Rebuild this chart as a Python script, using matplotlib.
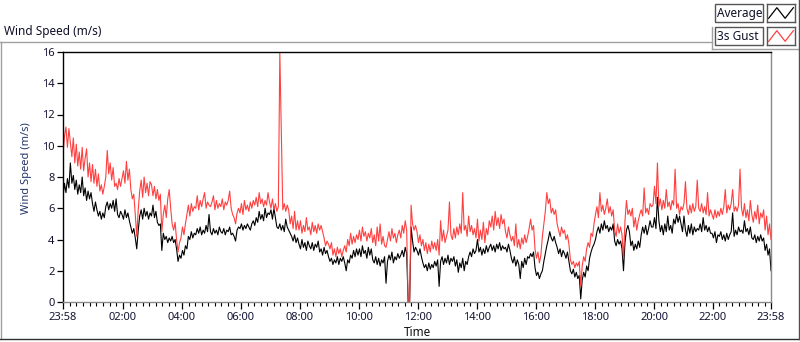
import numpy as np
import matplotlib
matplotlib.use("Agg")
import matplotlib.pyplot as plt
from matplotlib.lines import Line2D
from matplotlib.patches import Rectangle

plt.rcParams['font.family'] = ['Noto Sans', 'DejaVu Sans']

# -----------------------------
# DATA (3 minute samples starting 23:58,
# one row per hour)
# -----------------------------
sample_minutes = 3

avg_speed = [
    6.7, 7.6, 7.0, 7.9, 7.3, 8.9, 7.6, 8.1, 7.2, 7.8, 6.9, 7.5, 7.0, 8.0, 6.8, 7.3, 6.5, 7.1, 6.6, 7.0,
    6.3, 5.8, 6.4, 5.9, 5.5, 5.8, 5.3, 5.7, 5.4, 6.1, 6.4, 5.9, 6.3, 6.0, 6.5, 5.8, 6.6, 5.6, 5.4, 5.8,
    5.6, 5.3, 5.9, 5.4, 5.7, 5.2, 4.8, 4.4, 4.7, 4.1, 3.4, 4.6, 5.5, 5.9, 5.3, 6.0, 5.5, 5.8, 5.3, 5.7,
    5.5, 6.2, 5.4, 5.8, 5.1, 4.9, 5.0, 3.3, 4.4, 4.0, 4.2, 3.8, 4.1, 3.9, 4.2, 3.8, 4.0, 3.4, 2.6, 3.0,
    2.8, 3.3, 3.0, 3.6, 3.4, 4.2, 4.0, 4.5, 4.1, 4.4, 4.3, 4.7, 4.4, 4.8, 4.3, 4.6, 4.4, 4.9, 4.5, 5.6,
    4.5, 4.3, 4.7, 4.4, 4.6, 4.3, 4.8, 4.5, 4.4, 4.7, 4.3, 4.6, 4.5, 4.8, 4.3, 4.4, 4.2, 3.9, 4.6, 4.8,
    4.7, 5.0, 4.6, 4.9, 4.7, 5.0, 4.8, 4.6, 5.0, 5.2, 4.9, 5.4, 5.1, 5.8, 5.3, 5.6, 5.2, 6.0, 5.4, 5.7,
    5.6, 5.9, 5.3, 6.0, 5.4, 4.8, 4.7, 5.0, 4.6, 4.9, 4.5, 5.3, 4.8, 4.6, 4.4, 4.2, 3.9, 4.3, 3.8, 4.1,
    3.7, 3.4, 4.0, 3.5, 3.8, 3.3, 3.9, 3.6, 3.4, 3.8, 3.3, 3.7, 3.5, 3.9, 3.2, 3.4, 3.0, 3.5, 3.1, 3.3,
    2.9, 2.6, 2.8, 2.4, 2.7, 2.5, 2.9, 2.4, 2.8, 2.6, 2.9, 2.5, 2.0, 2.7, 2.5, 3.0, 2.8, 3.3, 2.9, 3.4,
    3.0, 3.4, 2.9, 3.6, 3.1, 3.3, 2.8, 3.5, 3.0, 3.4, 2.7, 2.5, 2.9, 2.4, 2.8, 2.3, 2.7, 2.5, 2.9, 1.2,
    2.6, 3.0, 2.7, 3.2, 2.5, 2.9, 2.7, 3.1, 2.8, 3.0, 3.3, 2.9, 3.5, 3.1, 0.0, 0.0, 4.8, 3.9, 3.2, 3.5,
    3.3, 3.0, 3.4, 2.9, 2.5, 2.2, 2.4, 2.0, 2.5, 2.1, 2.4, 2.2, 2.6, 2.3, 2.7, 1.0, 2.6, 2.9, 2.4, 2.8,
    2.5, 3.0, 2.4, 2.8, 2.6, 2.9, 2.3, 2.7, 1.9, 2.5, 2.2, 2.8, 2.0, 2.6, 2.4, 2.9, 3.2, 2.9, 3.4, 3.1,
    3.3, 4.0, 3.2, 3.5, 3.0, 3.4, 3.1, 3.6, 3.2, 3.5, 3.7, 3.3, 3.6, 3.2, 3.7, 3.4, 3.8, 3.3, 3.6, 3.4,
    3.5, 3.2, 3.7, 3.3, 2.8, 2.5, 2.9, 2.3, 2.7, 2.4, 1.5, 2.6, 2.2, 2.8, 2.4, 2.9, 2.8, 3.1, 2.9, 3.2,
    2.2, 1.7, 1.9, 1.5, 1.8, 2.0, 2.6, 3.1, 3.6, 4.0, 4.5, 4.1, 3.9, 4.2, 3.8, 3.5, 3.1, 3.4, 2.9, 3.3,
    3.1, 2.8, 3.2, 2.6, 2.0, 1.8, 2.1, 1.6, 1.9, 1.5, 1.7, 0.2, 1.4, 1.9, 1.6, 2.3, 2.0, 2.8, 3.2, 3.5,
    3.7, 4.0, 4.5, 4.8, 4.4, 5.0, 4.6, 5.2, 4.7, 4.9, 4.5, 4.8, 4.6, 5.0, 3.9, 3.6, 4.0, 3.7, 3.9, 3.4,
    2.0, 3.8, 4.6, 4.9, 4.5, 3.6, 3.9, 3.3, 3.7, 3.4, 3.9, 3.5, 4.3, 4.8, 4.4, 4.9, 4.3, 4.7, 5.2, 4.8,
    4.8, 5.4, 4.7, 6.7, 5.2, 4.5, 4.9, 4.3, 5.0, 4.5, 5.5, 4.6, 4.9, 4.4, 5.3, 5.0, 5.6, 5.1, 5.5, 5.0,
    4.5, 5.5, 4.6, 4.2, 4.9, 4.4, 5.0, 4.3, 4.8, 4.5, 4.7, 4.6, 5.0, 4.5, 5.4, 4.6, 4.9, 4.5, 4.8, 4.4,
    4.4, 4.1, 4.5, 3.8, 4.3, 4.2, 4.5, 4.0, 4.3, 3.9, 4.4, 4.0, 4.3, 4.5, 5.7, 4.2, 4.6, 4.3, 4.8, 4.5,
    4.6, 4.4, 5.2, 4.5, 4.7, 4.3, 4.8, 4.1, 4.0, 4.3, 3.8, 4.2, 3.9, 4.3, 3.9, 4.1, 3.3, 3.7, 3.0, 3.4,
    2.0,
]

gust_speed = [
    9.4, 10.6, 11.2, 9.9, 11.1, 10.2, 9.3, 10.5, 8.9, 10.1, 8.7, 9.6, 8.5, 9.9, 8.4, 9.2, 9.8, 8.0, 8.9, 7.7,
    8.8, 7.6, 8.5, 7.4, 8.2, 7.1, 7.5, 6.9, 7.4, 8.0, 9.7, 8.2, 8.9, 7.8, 8.6, 7.4, 7.6, 7.2, 7.9, 7.4,
    7.9, 8.4, 7.6, 9.0, 7.8, 8.5, 7.2, 6.6, 6.9, 5.6, 4.2, 5.9, 7.1, 7.8, 6.7, 8.0, 7.0, 7.6, 6.8, 7.7,
    7.5, 6.8, 7.4, 6.6, 7.2, 6.5, 6.9, 4.5, 5.6, 6.2, 5.4, 6.6, 7.2, 6.0, 5.0, 4.6, 5.1, 4.0, 3.2, 3.8,
    4.1, 4.8, 4.3, 5.0, 5.6, 6.2, 5.5, 6.3, 5.8, 6.1, 6.0, 6.8, 5.9, 6.5, 6.1, 6.6, 7.0, 6.0, 6.4, 6.2,
    6.1, 6.4, 6.8, 5.9, 6.5, 6.0, 6.3, 6.1, 6.6, 5.9, 6.4, 6.2, 6.5, 7.1, 6.0, 5.6, 5.4, 5.0, 5.7, 6.0,
    5.7, 6.3, 5.6, 6.5, 5.9, 6.2, 5.8, 6.4, 6.0, 6.5, 6.2, 6.7, 6.1, 7.0, 6.3, 6.6, 6.1, 6.5, 6.2, 7.0,
    6.4, 6.0, 6.6, 5.9, 6.3, 5.8, 6.1, 16.0, 10.9, 5.9, 6.3, 5.8, 6.2, 5.9, 5.0, 5.5, 4.7, 5.8, 4.6, 5.2,
    4.6, 5.2, 4.4, 4.9, 4.5, 5.4, 4.6, 4.8, 4.3, 5.1, 4.5, 4.9, 4.4, 5.0, 4.6, 4.9, 4.5, 4.1, 3.6, 3.9,
    3.7, 3.4, 3.8, 3.0, 3.4, 2.9, 3.5, 3.1, 3.4, 2.9, 3.3, 3.6, 3.2, 4.0, 3.6, 4.4, 3.7, 4.2, 3.8, 4.3,
    4.0, 4.6, 3.9, 4.8, 4.2, 4.5, 3.9, 4.4, 4.1, 4.7, 3.8, 4.3, 3.6, 4.8, 3.9, 5.0, 3.7, 4.2, 3.6, 3.5,
    4.0, 4.5, 3.9, 4.7, 4.1, 4.4, 3.8, 4.3, 4.6, 4.1, 4.9, 4.4, 5.2, 4.6, 0.0, 0.0, 6.2, 5.0, 4.6, 4.9,
    4.5, 3.8, 4.3, 3.6, 4.0, 3.3, 3.8, 3.1, 3.7, 3.2, 3.9, 3.4, 3.8, 3.3, 4.0, 3.0, 5.2, 3.9, 4.6, 3.8,
    4.2, 4.6, 6.4, 4.3, 4.0, 4.7, 4.1, 4.8, 4.3, 5.0, 4.4, 7.0, 4.6, 4.9, 4.2, 5.5, 4.5, 4.9, 4.3, 4.7,
    4.1, 5.3, 3.9, 4.6, 4.0, 5.1, 3.8, 4.7, 4.3, 5.2, 4.8, 5.5, 4.6, 5.8, 4.9, 5.4, 4.7, 5.6, 5.0, 5.3,
    4.5, 4.1, 4.8, 4.3, 3.9, 4.2, 3.6, 5.0, 3.5, 4.0, 3.4, 4.1, 3.7, 4.3, 3.8, 4.2, 4.7, 5.3, 4.6, 4.9,
    3.4, 2.8, 3.2, 2.5, 3.0, 4.2, 5.0, 5.8, 7.0, 6.3, 6.6, 5.7, 6.0, 5.6, 5.9, 5.0, 4.6, 4.2, 4.8, 4.4,
    4.6, 4.0, 4.3, 3.7, 2.7, 2.4, 2.6, 2.2, 2.5, 2.3, 2.6, 1.0, 2.3, 2.9, 2.6, 3.4, 3.8, 3.5, 4.4, 4.2,
    5.0, 5.6, 6.1, 5.4, 7.0, 5.8, 6.2, 5.6, 6.0, 6.6, 5.7, 6.1, 5.5, 5.9, 4.6, 4.2, 5.0, 4.4, 4.8, 4.3,
    2.8, 5.2, 6.5, 5.6, 5.9, 5.5, 6.0, 4.8, 5.4, 4.6, 5.2, 5.6, 5.9, 5.5, 7.3, 5.7, 6.0, 5.6, 6.3, 6.1,
    6.2, 7.4, 6.3, 8.9, 6.1, 6.6, 5.9, 6.5, 6.0, 7.2, 6.1, 6.4, 5.9, 6.5, 6.2, 8.5, 6.0, 6.3, 5.6, 6.1,
    5.9, 6.3, 7.7, 6.0, 5.6, 6.2, 5.7, 6.3, 5.8, 6.1, 7.8, 6.0, 5.8, 6.3, 5.7, 6.1, 5.6, 7.0, 5.5, 5.9,
    5.6, 5.3, 5.9, 5.4, 5.8, 5.5, 6.0, 5.6, 6.1, 7.2, 5.7, 6.2, 5.9, 6.3, 7.2, 5.8, 6.1, 5.8, 6.2, 8.5,
    6.0, 5.5, 6.3, 5.4, 5.9, 5.2, 6.5, 5.6, 5.1, 5.8, 5.3, 6.2, 5.0, 5.7, 5.4, 5.9, 4.6, 5.5, 4.3, 5.0,
    4.0,
]

time_labels = ["23:58", "02:00", "04:00", "06:00", "08:00", "10:00", "12:00",
               "14:00", "16:00", "18:00", "20:00", "22:00", "23:58"]
y_ticks = [0, 2, 4, 6, 8, 10, 12, 14, 16]
series_names = ["Average", "3s Gust"]
series_colors = ["black", "#ff4040"]

assert len(avg_speed) == len(gust_speed) == 481, (len(avg_speed), len(gust_speed))

# -----------------------------
# LAYOUT HELPERS (pixel -> figure fraction)
# -----------------------------
W, H = 800, 342


def fx(px):
    return px / W


def fy(py):
    return 1 - py / H


def to_minutes(label):
    hh, mm = label.split(":")
    return int(hh) * 60 + int(mm)


start = to_minutes(time_labels[0])
tick_pos = [(to_minutes(l) - start) % 1440 for l in time_labels]
tick_pos[-1] = 1440

t = np.arange(len(avg_speed)) * sample_minutes

fig = plt.figure(figsize=(8, 3.42), dpi=100)
ax = fig.add_axes([fx(63), fy(302), fx(771) - fx(63), fy(52) - fy(302)])

ax.plot(t, avg_speed, color=series_colors[0], lw=0.8)
ax.plot(t, gust_speed, color=series_colors[1], lw=0.8)

ax.set_xlim(0, 1440)
ax.set_ylim(0, 16)

# axis styling
for side in ["left", "top"]:
    ax.spines[side].set_color("black")
for side in ["bottom", "right"]:
    ax.spines[side].set_color("#8a8a8a")
for s in ax.spines.values():
    s.set_linewidth(1.0)

label_col = "#141432"
ax.set_yticks(y_ticks)
ax.set_yticklabels([str(v) for v in y_ticks])
ax.tick_params(axis="y", direction="out", length=4, width=0.9, pad=2,
               labelsize=8, labelcolor=label_col)

ax.set_xticks(tick_pos)
ax.set_xticklabels(time_labels)
minor = []
for a, b in zip(tick_pos[:-1], tick_pos[1:]):
    minor.extend(np.linspace(a, b, 10)[1:-1])
ax.set_xticks(minor, minor=True)
ax.tick_params(axis="x", which="major", direction="out", length=5, width=0.9,
               pad=2, labelsize=8, labelcolor=label_col)
ax.tick_params(axis="x", which="minor", direction="out", length=3, width=0.8)

ax.set_ylabel("Wind Speed (m/s)", fontsize=8, color="#25376a")
ax.yaxis.set_label_coords((32 - 63) / 708, (302 - 168) / 250)
ax.set_xlabel("Time", fontsize=8.5, color="#101010")
ax.xaxis.label.set_va("center")
ax.xaxis.set_label_coords(0.5, (302 - 333) / 250)

# panel title
fig.text(fx(4), fy(32), "Wind Speed (m/s)", fontsize=8.5, color="#101028",
         va="center", ha="left")

# panel frame
frame = [
    ((0, 712), (42, 42), "#a0a0a0"),
    ((712, 712), (27, 49), "#a0a0a0"),
    ((712, 800), (49, 49), "#a0a0a0"),
    ((0.5, 0.5), (42, 339), "#a0a0a0"),
    ((0, 799), (339, 339), "#303030"),
    ((799, 799), (0, 339), "#505050"),
]
for xs, ys, c in frame:
    fig.add_artist(Line2D([fx(v) for v in xs], [fy(v) for v in ys],
                          color=c, lw=1.0, transform=fig.transFigure))

# legend boxes
for i, (name, col) in enumerate(zip(series_names, series_colors)):
    top = 4 + i * 23
    fig.add_artist(Rectangle((fx(715), fy(top + 18)), fx(763) - fx(715),
                             fy(top) - fy(top + 18), transform=fig.transFigure,
                             facecolor="white", edgecolor="#555555", lw=1.0))
    fig.text(fx(717), fy(top + 9), name, fontsize=8.5, color="#101028",
             va="center", ha="left")
    sw = fig.add_axes([fx(767), fy(top + 18), fx(795) - fx(767),
                       fy(top) - fy(top + 18)])
    sw.plot([0, 1, 2, 3], [0, 1, 0, 1], color=col, lw=0.9)
    sw.set_xlim(-0.2, 3.2)
    sw.set_ylim(-0.35, 1.35)
    sw.set_xticks([])
    sw.set_yticks([])
    for s in sw.spines.values():
        s.set_color("#555555")
        s.set_linewidth(1.0)

fig.savefig("out.png", dpi=100)
